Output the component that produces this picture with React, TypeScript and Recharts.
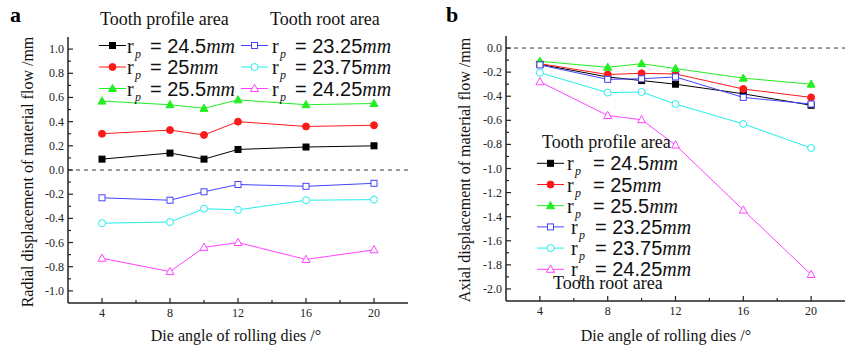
import React from "react";
import { LineChart, Line, XAxis, YAxis, ReferenceLine } from "recharts";

// die angle of rolling dies (deg)
const angles = [4, 8, 10, 12, 16, 20];

// panel a: radial displacement /mm
const radial245 = [0.09, 0.14, 0.09, 0.17, 0.19, 0.2];
const radial25 = [0.3, 0.33, 0.29, 0.4, 0.36, 0.37];
const radial255 = [0.57, 0.54, 0.51, 0.58, 0.54, 0.55];
const radial2325 = [-0.23, -0.25, -0.18, -0.12, -0.135, -0.11];
const radial2375 = [-0.44, -0.43, -0.32, -0.33, -0.25, -0.245];
const radial2425 = [-0.73, -0.84, -0.64, -0.6, -0.74, -0.66];

// panel b: axial displacement /mm
const axial245 = [-0.135, -0.24, -0.27, -0.3, -0.38, -0.475];
const axial25 = [-0.13, -0.22, -0.21, -0.215, -0.34, -0.41];
const axial255 = [-0.11, -0.16, -0.13, -0.17, -0.25, -0.3];
const axial2325 = [-0.14, -0.26, -0.255, -0.24, -0.41, -0.465];
const axial2375 = [-0.205, -0.37, -0.365, -0.465, -0.63, -0.83];
const axial2425 = [-0.28, -0.56, -0.595, -0.805, -1.345, -1.88];

const xTicks = [4, 6, 8, 10, 12, 14, 16, 18, 20];
const radialTicks = [
  -1.0, -0.9, -0.8, -0.7, -0.6, -0.5, -0.4, -0.3, -0.2, -0.1, 0.0,
  0.1, 0.2, 0.3, 0.4, 0.5, 0.6, 0.7, 0.8, 0.9, 1.0,
];
const axialTicks = [
  -2.0, -1.9, -1.8, -1.7, -1.6, -1.5, -1.4, -1.3, -1.2, -1.1, -1.0,
  -0.9, -0.8, -0.7, -0.6, -0.5, -0.4, -0.3, -0.2, -0.1, 0.0,
];

const series = [
  { key: "r245", label: "24.5", color: "#000000", shape: "square", filled: true },
  { key: "r25", label: "25", color: "#ff1a1a", shape: "circle", filled: true },
  { key: "r255", label: "25.5", color: "#22ee22", shape: "triangle", filled: true },
  { key: "r2325", label: "23.25", color: "#4444ff", shape: "square", filled: false },
  { key: "r2375", label: "23.75", color: "#22eeee", shape: "circle", filled: false },
  { key: "r2425", label: "24.25", color: "#ff44ff", shape: "triangle", filled: false },
];

const build = (cols: number[][]) =>
  angles.map((a, i) => {
    const row: any = { angle: a };
    series.forEach((s, j) => (row[s.key] = cols[j][i]));
    return row;
  });

const radialData = build([radial245, radial25, radial255, radial2325, radial2375, radial2425]);
const axialData = build([axial245, axial25, axial255, axial2325, axial2375, axial2425]);

const SERIF = "'Liberation Serif', 'Times New Roman', serif";
const SANS = "'Liberation Sans', Arial, sans-serif";
const AXIS = "#222";

function Marker({ cx, cy, shape, color, filled }: any) {
  const fill = filled ? color : "#fff";
  if (shape === "square")
    return <rect x={cx - 3} y={cy - 3} width={6} height={6} fill={fill} stroke={color} strokeWidth={1} />;
  if (shape === "circle") return <circle cx={cx} cy={cy} r={3.5} fill={fill} stroke={color} strokeWidth={1} />;
  return (
    <path
      d={`M${cx},${cy - 4.2} L${cx + 4},${cy + 3} L${cx - 4},${cy + 3} Z`}
      fill={fill}
      stroke={color}
      strokeWidth={1}
    />
  );
}

const makeDot = (s: any) => (p: any) =>
  <Marker key={`${s.key}-${p.index}`} cx={p.cx} cy={p.cy} shape={s.shape} color={s.color} filled={s.filled} />;

const YTick = (props: any) => {
  const { x, y, payload } = props;
  const v = payload.value;
  const major = Math.round(v * 10) % 2 === 0;
  return (
    <g>
      <line x1={x} x2={x + (major ? 5 : 3)} y1={y} y2={y} stroke={AXIS} strokeWidth={1.2} />
      {major && (
        <text x={x - 4} y={y} dy={4} textAnchor="end" fontSize={12} fontFamily={SERIF} fill="#222">
          {v.toFixed(1)}
        </text>
      )}
    </g>
  );
};

const XTick = (props: any) => {
  const { x, y, payload } = props;
  const v = payload.value;
  const major = v % 4 === 0;
  return (
    <g>
      <line x1={x} x2={x} y1={y} y2={y - (major ? 5 : 3)} stroke={AXIS} strokeWidth={1.2} />
      {major && (
        <text x={x} y={y} dy={14} textAnchor="middle" fontSize={12} fontFamily={SERIF} fill="#222">
          {v}
        </text>
      )}
    </g>
  );
};

function Panel({ data, ticks, domain, width, yWidth, top, right, xHeight }: any) {
  return (
    <LineChart width={width} height={352} data={data} margin={{ top, right, left: 0, bottom: 0 }}>
      <XAxis
        type="number"
        dataKey="angle"
        domain={[2, 22]}
        ticks={xTicks}
        interval={0}
        tickSize={0}
        tickMargin={0}
        tickLine={false}
        tick={<XTick />}
        height={xHeight}
        axisLine={{ stroke: AXIS, strokeWidth: 1.5 }}
      />
      <YAxis
        type="number"
        domain={domain}
        ticks={ticks}
        interval={0}
        tickSize={0}
        tickMargin={0}
        tickLine={false}
        tick={<YTick />}
        width={yWidth}
        axisLine={{ stroke: AXIS, strokeWidth: 1.5 }}
        allowDataOverflow
      />
      <ReferenceLine y={0} stroke="#333" strokeDasharray="4 4" strokeWidth={1} />
      {series.map((s) => (
        <Line
          key={s.key}
          dataKey={s.key}
          stroke={s.color}
          strokeWidth={1}
          dot={makeDot(s)}
          activeDot={false}
          isAnimationActive={false}
        />
      ))}
    </LineChart>
  );
}

function LegendRow({ s, lineX, y, rX, eqX }: any) {
  return (
    <g>
      <line x1={lineX} x2={lineX + 27} y1={y} y2={y} stroke={s.color} strokeWidth={1} />
      <Marker cx={lineX + 13.5} cy={y} shape={s.shape} color={s.color} filled={s.filled} />
      <text y={y + 7} fontSize={20} fill="#111">
        <tspan x={rX} fontFamily={SERIF}>r</tspan>
        <tspan x={rX + 8} dy={5} fontSize={12} fontStyle="italic" fontFamily={SERIF}>p</tspan>
        <tspan x={eqX} dy={-5} fontFamily={SANS}>{`= ${s.label}`}</tspan>
        <tspan fontFamily={SERIF} fontStyle="italic">mm</tspan>
      </text>
    </g>
  );
}

export default function App() {
  const rowsA = [45.5, 67, 88.5];
  const rowsB = [163.3, 184.5, 205.7, 226.9, 248.1, 269.3];
  return (
    <div style={{ position: "absolute", left: 0, top: 0, width: 854, height: 352, background: "#fff" }}>
      <div style={{ position: "absolute", left: 0, top: 0 }}>
        <Panel data={radialData} ticks={radialTicks} domain={[-1.1, 1.1]} width={430} yWidth={68} top={37} right={22} xHeight={49} />
      </div>
      <div style={{ position: "absolute", left: 430, top: 0 }}>
        <Panel data={axialData} ticks={axialTicks} domain={[-2.1, 0.1]} width={424} yWidth={76} top={36} right={9} xHeight={51} />
      </div>
      <svg width={854} height={352} style={{ position: "absolute", left: 0, top: 0, pointerEvents: "none" }}>
        <text x={10} y={22} fontSize={22} fontWeight="bold" fontFamily={SERIF}>a</text>
        <text x={446} y={22} fontSize={22} fontWeight="bold" fontFamily={SERIF}>b</text>

        <text x={100} y={25} fontSize={18} fontFamily={SERIF} fill="#111">Tooth profile area</text>
        <text x={270} y={25} fontSize={18} fontFamily={SERIF} fill="#111">Tooth root area</text>
        {series.slice(0, 3).map((s, i) => (
          <LegendRow key={s.key} s={s} lineX={99} y={rowsA[i]} rX={127} eqX={150} />
        ))}
        {series.slice(3).map((s, i) => (
          <LegendRow key={s.key} s={s} lineX={241} y={rowsA[i]} rX={272} eqX={295} />
        ))}

        <text x={542} y={148} fontSize={18} fontFamily={SERIF} fill="#111">Tooth profile area</text>
        {series.map((s, i) => (
          <LegendRow key={s.key} s={s} lineX={537} y={rowsB[i]} rX={i < 3 ? 567 : 571} eqX={i < 3 ? 593 : 595} />
        ))}
        <text x={553} y={289} fontSize={18} fontFamily={SERIF} fill="#111">Tooth root area</text>

        <text x={236} y={341} textAnchor="middle" fontSize={16} fontFamily={SERIF} fill="#111">Die angle of rolling dies /°</text>
        <text x={666} y={341} textAnchor="middle" fontSize={16} fontFamily={SERIF} fill="#111">Die angle of rolling dies /°</text>
        <text transform="translate(33,172) rotate(-90)" textAnchor="middle" fontSize={16} fontFamily={SERIF} fill="#111">
          Radial displacement of material flow /mm
        </text>
        <text transform="translate(470,170) rotate(-90)" textAnchor="middle" fontSize={16} fontFamily={SERIF} fill="#111">
          Axial displacement of material flow /mm
        </text>
      </svg>
    </div>
  );
}
